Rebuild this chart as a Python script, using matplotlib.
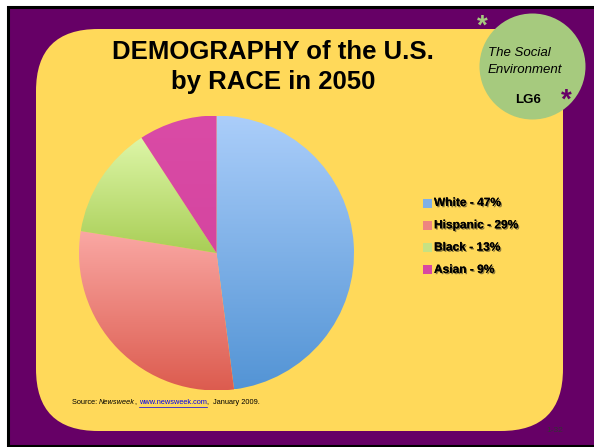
import matplotlib
matplotlib.use("Agg")
import matplotlib.pyplot as plt
import matplotlib.patches as mpatches
import matplotlib.patheffects as pe
import numpy as np
from matplotlib.colors import LinearSegmentedColormap

plt.rcParams['font.family'] = ['Liberation Sans', 'DejaVu Sans']

# data
races = ['White', 'Hispanic', 'Black', 'Asian']
shares = [47, 29, 13, 9]
top_colors = ['#ABCEFA', '#FAA8A4', '#DDF6A8', '#DA4BA6']
bottom_colors = ['#5394D5', '#DC5B4E', '#A9CE56', '#D545A0']
legend_colors = ['#7FB0E8', '#EE8580', '#C6E283', '#D848A2']

title_lines = ['DEMOGRAPHY of the U.S.', 'by RACE in 2050']
purple = '#660066'
yellow = '#FFD95A'
green = '#A6CA7E'

W, H = 594, 447
fig = plt.figure(figsize=(W / 100, H / 100), dpi=100)
fig.patch.set_facecolor('white')

# background in pixel coords
bg = fig.add_axes([0, 0, 1, 1])
bg.set_xlim(0, W)
bg.set_ylim(H, 0)
bg.axis('off')

bg.add_patch(mpatches.Rectangle((7.5, 6.5), 620, 439.5, facecolor=purple,
                                edgecolor='black', linewidth=2.2))
bg.add_patch(mpatches.FancyBboxPatch((36, 29), 527, 402,
                                     boxstyle='round,pad=0,rounding_size=62',
                                     facecolor=yellow, edgecolor='none'))
bg.add_patch(mpatches.Circle((532.5, 66.5), 53, facecolor=green, edgecolor='none'))

bg.text(482, 27, '*', color=green, fontsize=20, fontweight='bold',
        ha='center', va='center')
bg.text(566, 101, '*', color=purple, fontsize=20, fontweight='bold',
        ha='center', va='center')
bg.text(488, 53, 'The Social', fontsize=9.5, style='italic', ha='left', va='center')
bg.text(488, 70, 'Environment', fontsize=9.5, style='italic', ha='left', va='center')
bg.text(528, 100, 'LG6', fontsize=9.5, fontweight='bold', ha='center', va='center')

bg.text(273, 52, title_lines[0], fontsize=18.5, fontweight='bold', ha='center', va='center')
bg.text(273, 82, title_lines[1], fontsize=18.5, fontweight='bold', ha='center', va='center')

# legend
shadow = [pe.withSimplePatchShadow(offset=(0.9, -0.9), shadow_rgbFace='#222222', alpha=0.55),
          pe.Normal()]
for i, (r, s) in enumerate(zip(races, shares)):
    y = 203 + i * 22.3
    bg.add_patch(mpatches.Rectangle((423, y - 4.5), 9, 9, facecolor=legend_colors[i],
                                    edgecolor='none'))
    bg.text(434, y, f'{r} - {s}%', fontsize=8.6, fontweight='bold', ha='left',
            va='center', path_effects=shadow)

# source line, pieces placed one after another
renderer = fig.canvas.get_renderer()
pieces = [('Source: ', 'normal', 'black'), ('Newsweek', 'italic', 'black'),
          (', ', 'normal', 'black'), ('www.newsweek.com', 'normal', '#0000EE'),
          (',  January 2009.', 'normal', 'black')]
x = 72
for txt, st, col in pieces:
    t = bg.text(x, 403, txt, fontsize=5.3, style=st, color=col, ha='left', va='center')
    bb = t.get_window_extent(renderer)
    if col != 'black':
        bg.plot([x, x + bb.width], [406.5, 406.5], color=col, linewidth=0.5)
    x += bb.width
bg.text(555, 430, '1-32', fontsize=6, color='#333333', ha='center', va='center')

# pie
cx, cy, rad = 216.5, 253, 137.5
ax = fig.add_axes([(cx - rad) / W, 1 - (cy + rad) / H, 2 * rad / W, 2 * rad / H])
wedges, _ = ax.pie(shares, startangle=90, counterclock=False, radius=1)

for w, c1, c2 in zip(wedges, top_colors, bottom_colors):
    w.set_facecolor('none')
    w.set_edgecolor('none')
    verts = w.get_path().vertices
    x0, x1 = verts[:, 0].min(), verts[:, 0].max()
    y0, y1 = verts[:, 1].min(), verts[:, 1].max()
    cmap = LinearSegmentedColormap.from_list('g', [c2, c1])
    grad = np.linspace(0, 1, 256).reshape(-1, 1)
    im = ax.imshow(grad, cmap=cmap, extent=[x0, x1, y0, y1], origin='lower',
                   aspect='auto', interpolation='bilinear')
    im.set_clip_path(w)

ax.set_xlim(-1, 1)
ax.set_ylim(-1, 1)
ax.axis('off')

fig.savefig('out.png', dpi=100)
